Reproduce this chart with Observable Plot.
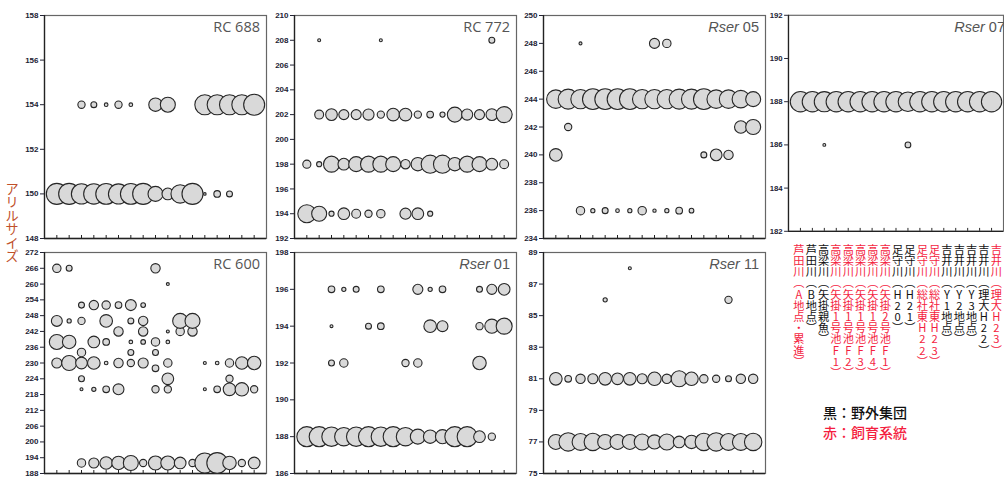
<!DOCTYPE html>
<html><head><meta charset="utf-8">
<script src="https://cdn.jsdelivr.net/npm/d3@7"></script>
<script src="https://cdn.jsdelivr.net/npm/@observablehq/plot@0.6"></script>
<style>
body{margin:0;background:#fff;}
#wrap{position:relative;width:1004px;height:479px;overflow:hidden;}
.panel{position:absolute;}
.title{position:absolute;font-size:14.5px;line-height:1;color:#555;white-space:nowrap;}
.ylab{position:absolute;writing-mode:vertical-rl;font-family:"Noto Sans CJK JP",sans-serif;font-size:13.5px;line-height:16px;color:#c0502a;}
.pop{position:absolute;writing-mode:vertical-rl;text-orientation:upright;font-family:"Noto Sans CJK JP",sans-serif;font-size:11.2px;line-height:11.2px;width:11.2px;white-space:nowrap;}
.legend{position:absolute;font-family:"Noto Sans CJK JP",sans-serif;font-size:14px;font-weight:500;line-height:20px;white-space:nowrap;}
</style></head>
<body><div id="wrap"></div>
<script>
// ---- data ----
const columns = d3.range(1, 18);
const popNames = ["芦田川（A地点・累進）","芦田川（B地点）","高梁川（矢掛親魚）","高梁川（矢掛1号池F1）","高梁川（矢掛1号池F2）","高梁川（矢掛1号池F3）","高梁川（矢掛1号池F4）","高梁川（矢掛2号池F1）","足守川（H20）","足守川（H21）","足守川（総社東H22）","足守川（総社東H23）","吉井川（Y1地点）","吉井川（Y2地点）","吉井川（Y3地点）","吉井川（理大H22）","吉井川（理大H23）"];
const popOrigin = ["飼育","野外","野外","飼育","飼育","飼育","飼育","飼育","野外","野外","飼育","飼育","野外","野外","野外","野外","飼育"];
const legendLines = ["黒：野外集団","赤：飼育系統"];
const yTitle = "アリルサイズ";

const rc688Alleles = [150, 154];
const rc688Freq = [
  [1.0,1.0,0.93,0.94,0.98,0.92,0.98,1.0,0.51,0.31,0.77,1.0,0.015,0.1,0.08,0,0],
  [0,0,0.12,0.08,0.03,0.12,0.03,0,0.41,0.51,0,0,0.91,0.91,0.91,0.91,1.0]
];
const rc772Alleles = [194, 198, 202, 208];
const rc772Freq = [
  [0.74,0.51,0.06,0.31,0.18,0.12,0.16,0,0.28,0.31,0.06,0,0,0,0,0,0],
  [0.15,0.06,0.58,0.31,0.51,0.58,0.58,0.51,0.2,0.41,0.74,0.74,0.41,0.58,0.51,0.31,0.18],
  [0,0.18,0.31,0.23,0.23,0.28,0.12,0.36,0.36,0.12,0.1,0.06,0.51,0.28,0.23,0.31,0.58],
  [0,0.02,0,0,0,0,0.02,0,0,0,0,0,0,0,0,0.08,0]
];
const rser05Alleles = [236, 240, 242, 244, 248];
const rser05Freq = [
  [0,0,0.16,0.04,0.08,0.03,0.04,0.16,0.025,0.04,0.1,0.05,0,0,0,0,0],
  [0.36,0,0,0,0,0,0,0,0,0,0,0,0.08,0.31,0.2,0,0],
  [0,0.12,0,0,0,0,0,0,0,0,0,0,0,0,0,0.36,0.51],
  [0.77,0.91,0.85,0.97,0.97,0.97,0.97,0.85,0.85,0.85,0.91,0.91,0.97,0.77,0.77,0.69,0.51],
  [0,0,0.02,0,0,0,0,0,0.23,0.16,0,0,0,0,0,0,0]
];
const rser07Alleles = [186, 188];
const rser07Freq = [
  [0,0,0.02,0,0,0,0,0,0,0.08,0,0,0,0,0,0,0],
  [1,1,0.98,1,1,1,1,1,1,0.92,1,1,1,1,1,1,1]
];
const rc600Alleles = [192, 220, 224, 228, 230, 234, 238, 242, 246, 252, 260, 266];
const rc600Freq = [
  [0,0,0.16,0.23,0.36,0.41,0.51,0.12,0.45,0.45,0.31,0.12,0.91,0.97,0.41,0.12,0.31],
  [0,0,0.02,0.04,0.1,0.27,0,0,0.12,0.12,0,0,0.02,0.1,0.36,0.41,0.12],
  [0,0,0.08,0,0,0,0,0,0,0.31,0,0,0,0,0.12,0,0],
  [0,0,0,0,0,0,0,0,0.1,0,0,0,0,0,0,0,0],
  [0.23,0.51,0.31,0.36,0.03,0.2,0.12,0.23,0,0.16,0,0,0.02,0.03,0.16,0.36,0.41],
  [0,0,0.16,0,0,0,0.08,0,0.08,0,0,0,0,0,0,0,0],
  [0.51,0.41,0,0.31,0.1,0,0.03,0.05,0.16,0.03,0,0,0,0,0,0,0],
  [0,0,0,0,0,0.2,0,0.2,0,0.02,0.16,0.2,0,0,0,0,0],
  [0.27,0.04,0.12,0,0.36,0,0.08,0.2,0,0,0.51,0.51,0,0,0,0,0],
  [0,0,0.08,0.2,0.16,0.1,0.27,0.05,0,0,0,0,0,0,0,0,0],
  [0,0,0,0,0,0,0,0,0,0.02,0,0,0,0,0,0,0],
  [0.16,0.08,0,0,0,0,0,0,0.2,0,0,0,0,0,0,0,0]
];
const rser01Alleles = [188, 192, 194, 196];
const rser01Freq = [
  [0.91,0.91,0.85,0.77,0.85,0.91,0.85,0.91,0.77,0.51,0.41,0.45,0.91,0.91,0.31,0.12,0],
  [0,0,0.08,0.16,0,0,0,0,0.12,0.16,0,0,0,0,0.41,0,0],
  [0,0,0.02,0,0,0.08,0.1,0,0,0,0.36,0.27,0,0,0.12,0.45,0.58],
  [0,0,0.1,0.04,0.08,0,0.1,0,0,0.23,0.04,0.1,0,0,0.08,0.23,0.31]
];
const rser11Alleles = [77, 81, 86, 88];
const rser11Freq = [
  [0.51,0.77,0.64,0.69,0.51,0.51,0.51,0.58,0.45,0.58,0.31,0.41,0.69,0.77,0.64,0.64,0.69],
  [0.36,0.1,0.2,0.23,0.36,0.31,0.36,0.23,0.41,0.2,0.58,0.41,0.16,0.12,0.08,0.2,0.2],
  [0,0,0,0,0.04,0,0,0,0,0,0,0,0,0,0.12,0,0],
  [0,0,0,0,0,0,0.02,0,0,0,0,0,0,0,0,0,0]
];

// ---- layout ----
const wrap = document.getElementById("wrap");
const PW = 222, ML = 32, MR = 1, MT = 6, MB = 6;

function makePanel(alleles, freq, yMin, yMax, yStep, left, top, h, titleHTML, titleFont) {
  const rows = [];
  columns.forEach((c, j) => alleles.forEach((a, i) => {
    const f = freq[i][j];
    if (f > 0) rows.push({col: c, allele: a, freq: f});
  }));
  const chart = Plot.plot({
    width: PW + ML + MR, height: h + MT + MB,
    marginLeft: ML, marginRight: MR, marginTop: MT, marginBottom: MB,
    style: {fontFamily: "'Liberation Sans', Arial, sans-serif", fontSize: "8px", fontWeight: "bold", color: "#223", background: "transparent", overflow: "visible"},
    x: {domain: [0, 18], axis: null},
    y: {domain: [yMin, yMax], ticks: d3.range(yMin, yMax + 0.001, yStep), tickSize: 4, tickPadding: 2, tickFormat: d => String(d), label: null},
    r: {type: "sqrt", domain: [0, 1], range: [0, 10.5]},
    marks: [
      Plot.frame({stroke: "#666", strokeWidth: 1.2}),
      Plot.ruleX([0], {stroke: "#222", strokeWidth: 1.3}),
      Plot.ruleY([yMin], {stroke: "#222", strokeWidth: 1.3}),
      Plot.ruleX(columns, {x: d => d, y1: () => yMin, y2: () => yMin, insetBottom: 3, stroke: "#222"}),
      Plot.dot(rows, {x: "col", y: "allele", r: "freq", fill: "#d9d9d9", stroke: "#262626", strokeWidth: 1.1, sort: null})
    ]
  });
  const holder = document.createElement("div");
  holder.className = "panel";
  holder.style.left = (left - ML) + "px";
  holder.style.top = (top - MT) + "px";
  holder.appendChild(chart);
  wrap.appendChild(holder);
  const t = document.createElement("div");
  t.className = "title";
  t.style.fontFamily = titleFont;
  t.innerHTML = titleHTML;
  t.style.right = (1004 - (left + PW - 6)) + "px";
  t.style.top = (top + 5) + "px";
  wrap.appendChild(t);
  return {chart, left};
}

const rcFont = "'Open Sans', sans-serif";
const rsFont = "'Liberation Sans', Arial, sans-serif";
makePanel(rc688Alleles, rc688Freq, 148, 158, 2, 44, 15, 223, "RC 688", rcFont);
makePanel(rc772Alleles, rc772Freq, 192, 210, 2, 294, 15, 223, "RC 772", rcFont);
makePanel(rser05Alleles, rser05Freq, 234, 250, 2, 543, 15, 223, "<i>Rser</i> 05", rsFont);
const p4 = makePanel(rser07Alleles, rser07Freq, 182, 192, 2, 789, 15, 223, "<i>Rser</i> 07", rsFont);
makePanel(rc600Alleles, rc600Freq, 188, 272, 6, 44, 252, 221, "RC 600", rcFont);
makePanel(rser01Alleles, rser01Freq, 186, 198, 2, 294, 252, 221, "<i>Rser</i> 01", rsFont);
makePanel(rser11Alleles, rser11Freq, 75, 89, 2, 543, 252, 221, "<i>Rser</i> 11", rsFont);

// y title
const yl = document.createElement("div");
yl.className = "ylab";
yl.textContent = yTitle;
yl.style.left = "4px";
yl.style.top = "182px";
wrap.appendChild(yl);

// population labels aligned with the Rser 07 panel x scale
const xs = p4.chart.scale("x");
popNames.forEach((name, i) => {
  const d = document.createElement("div");
  d.className = "pop";
  d.textContent = name;
  d.style.color = popOrigin[i] === "飼育" ? "#f41e3f" : "#111";
  const cx = p4.left - ML + xs.apply(columns[i]);
  d.style.left = (cx - 8.6) + "px";
  d.style.top = "244px";
  wrap.appendChild(d);
});

// legend
legendLines.forEach((txt, i) => {
  const d = document.createElement("div");
  d.className = "legend";
  d.textContent = txt;
  d.style.color = i === 0 ? "#111" : "#f41e3f";
  d.style.left = "823px";
  d.style.top = (402 + i * 20) + "px";
  wrap.appendChild(d);
});
</script>
</body></html>
